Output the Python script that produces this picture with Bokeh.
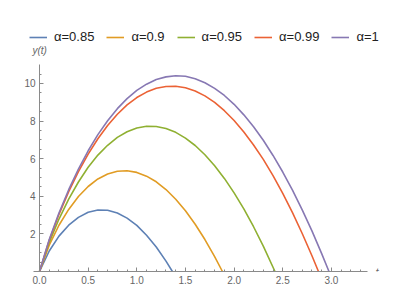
from bokeh.plotting import figure
from bokeh.models import (Legend, LegendItem, SingleIntervalTicker, FixedTicker,
                          PrintfTickFormatter, Label, Range1d)
from bokeh.embed import file_html
from bokeh.resources import INLINE

# ---- data ----
alpha_labels = ["α=0.85", "α=0.9", "α=0.95", "α=0.99", "α=1"]
colors = ["#5E81B5", "#E19C24", "#8FB032", "#EB6235", "#8778B3"]

t_085 = [0.0, 0.1, 0.2, 0.3, 0.4, 0.5, 0.6, 0.7, 0.8, 0.9, 1.0, 1.1, 1.2, 1.3, 1.366]
y_085 = [0, 1.09, 1.88, 2.46, 2.88, 3.15, 3.27, 3.26, 3.11, 2.84, 2.45, 1.93, 1.30, 0.55, 0]

t_090 = [0.0, 0.1, 0.2, 0.3, 0.4, 0.5, 0.6, 0.7, 0.8, 0.9, 1.0, 1.1, 1.2, 1.3, 1.4, 1.5,
         1.6, 1.7, 1.8, 1.88]
y_090 = [0, 1.40, 2.46, 3.30, 3.99, 4.52, 4.92, 5.18, 5.33, 5.36, 5.27, 5.07, 4.77, 4.36,
         3.84, 3.23, 2.51, 1.70, 0.79, 0]

t_095 = [0.0, 0.1, 0.2, 0.3, 0.4, 0.5, 0.6, 0.7, 0.8, 0.9, 1.0, 1.1, 1.2, 1.3, 1.4, 1.5,
         1.6, 1.7, 1.8, 1.9, 2.0, 2.1, 2.2, 2.3, 2.42]
y_095 = [0, 1.55, 2.79, 3.85, 4.76, 5.54, 6.19, 6.71, 7.13, 7.43, 7.63, 7.72, 7.71, 7.60,
         7.40, 7.09, 6.70, 6.21, 5.62, 4.95, 4.18, 3.33, 2.38, 1.35, 0]

t_099 = [0.0, 0.1, 0.2, 0.3, 0.4, 0.5, 0.6, 0.7, 0.8, 0.9, 1.0, 1.1, 1.2, 1.3, 1.4, 1.5,
         1.6, 1.7, 1.8, 1.9, 2.0, 2.1, 2.2, 2.3, 2.4, 2.5, 2.6, 2.7, 2.8, 2.867]
y_099 = [0, 1.66, 3.04, 4.24, 5.31, 6.24, 7.06, 7.76, 8.36, 8.86, 9.25, 9.54, 9.74, 9.84,
         9.85, 9.77, 9.60, 9.34, 8.99, 8.55, 8.03, 7.42, 6.73, 5.96, 5.10, 4.15, 3.13, 2.02,
         0.84, 0]

t_100 = [0.0, 0.1, 0.2, 0.3, 0.4, 0.5, 0.6, 0.7, 0.8, 0.9, 1.0, 1.1, 1.2, 1.3, 1.4, 1.5,
         1.6, 1.7, 1.8, 1.9, 2.0, 2.1, 2.2, 2.3, 2.4, 2.5, 2.6, 2.7, 2.8, 2.9, 2.975]
y_100 = [0, 1.70, 3.11, 4.35, 5.45, 6.42, 7.28, 8.02, 8.66, 9.19, 9.63, 9.96, 10.21, 10.35,
         10.41, 10.38, 10.25, 10.04, 9.74, 9.36, 8.89, 8.33, 7.70, 6.98, 6.17, 5.29, 4.33,
         3.28, 2.16, 0.95, 0]

x_major_interval = 0.5
x_minor_per_major = 5
x_axis_start = -0.06
x_axis_end = 3.37
y_ticks = [2, 4, 6, 8, 10]
y_minor_ticks = [0.5, 1, 1.5, 2.5, 3, 3.5, 4.5, 5, 5.5, 6.5, 7, 7.5, 8.5, 9, 9.5, 10.5]
y_axis_end = 11

series = [(t_085, y_085), (t_090, y_090), (t_095, y_095), (t_099, y_099), (t_100, y_100)]

FONT = "Liberation Sans"
AXIS_COL = "#8a8a8a"
LABEL_COL = "#666666"

p = figure(width=396, height=292,
           x_range=Range1d(-0.1953, 3.669), y_range=Range1d(0, 14.41),
           output_backend="svg", toolbar_location=None,
           min_border_left=20, min_border_right=0, min_border_top=0, min_border_bottom=21)
p.outline_line_color = None
p.xgrid.visible = False
p.ygrid.visible = False
p.background_fill_color = "white"
p.border_fill_color = "white"

renderers = []
for (tt, yy), c in zip(series, colors):
    r = p.line(tt, yy, line_color=c, line_width=1.6)
    renderers.append(r)

# axes
p.xaxis.ticker = SingleIntervalTicker(interval=x_major_interval, num_minor_ticks=x_minor_per_major)
p.xaxis.formatter = PrintfTickFormatter(format="%.1f")
p.xaxis.bounds = (x_axis_start, x_axis_end)
p.yaxis.ticker = FixedTicker(ticks=y_ticks, minor_ticks=y_minor_ticks)
p.yaxis.bounds = (0, y_axis_end)
p.yaxis.fixed_location = 0
for ax in (p.xaxis[0], p.yaxis[0]):
    ax.axis_line_color = AXIS_COL
    ax.axis_line_width = 1
    ax.major_tick_line_color = AXIS_COL
    ax.minor_tick_line_color = AXIS_COL
    ax.major_tick_in = 4
    ax.major_tick_out = 0
    ax.minor_tick_in = 2
    ax.minor_tick_out = 0
    ax.major_label_text_color = LABEL_COL
    ax.major_label_text_font = FONT
    ax.major_label_text_font_size = "10px"
p.xaxis.major_label_standoff = 4
p.yaxis.major_label_standoff = 4

# axis labels (Mathematica style)
p.add_layout(Label(x=0, y=11.74, x_offset=-7, text="y(t)", text_font=FONT,
                   text_font_style="italic", text_font_size="10px", text_color=LABEL_COL,
                   text_baseline="middle", text_align="left"))
p.add_layout(Label(x=x_axis_end, y=0, x_offset=8, text="t", text_font=FONT,
                   text_font_style="italic", text_font_size="11px", text_color=LABEL_COL,
                   text_baseline="middle", text_align="left"))

items = [LegendItem(label=lab, renderers=[r]) for lab, r in zip(alpha_labels, renderers)]
legend = Legend(items=items, orientation="horizontal", location=(9, 227),
                padding=0, margin=0, spacing=12, label_standoff=7,
                glyph_width=18, glyph_height=14, label_height=14,
                label_text_font_size="13px", label_text_font=FONT,
                label_text_color="#222222",
                border_line_color=None, background_fill_alpha=0)
p.add_layout(legend)

open("out.html", "w").write(file_html(p, INLINE))
